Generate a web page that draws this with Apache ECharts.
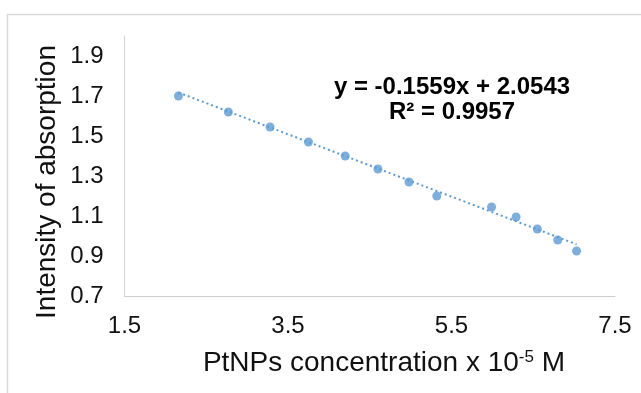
<!DOCTYPE html>
<html>
<head>
<meta charset="utf-8">
<script src="https://cdn.jsdelivr.net/npm/echarts@6/dist/echarts.min.js"></script>
<style>
html,body{margin:0;padding:0;background:#fff;}
#chart{width:641px;height:393px;}
</style>
</head>
<body>
<div id="chart"></div>
<script>
// Data
const concentration = [2.16, 2.77, 3.28, 3.75, 4.20, 4.60, 4.98, 5.32, 5.99, 6.29, 6.55, 6.80, 7.03];
const absorption = [1.70, 1.62, 1.545, 1.47, 1.40, 1.335, 1.27, 1.20, 1.145, 1.095, 1.035, 0.98, 0.925];
// Trendline coefficients as printed on the chart
const trendSlope = -0.1559;
const trendIntercept = 2.0543;
const equationText = 'y = -0.1559x + 2.0543';
const r2Text = 'R\u00B2 = 0.9957';
const xTickLabels = ['1.5', '3.5', '5.5', '7.5'];
const yTickLabels = ['0.7', '0.9', '1.1', '1.3', '1.5', '1.7', '1.9'];
const yTitle = 'Intensity of absorption';

const points = concentration.map((x, i) => [x, absorption[i]]);
const xMinData = Math.min(...concentration);
const xMaxData = Math.max(...concentration);
const trendPoints = [xMinData, xMaxData].map(x => [x, trendSlope * x + trendIntercept]);

const chart = echarts.init(document.getElementById('chart'), null, {renderer: 'canvas'});
const font = 'Liberation Sans, Arial, sans-serif';
const color = '#5b9bd5';

chart.setOption({
  backgroundColor: '#ffffff',
  animation: false,
  grid: {left: 124.5, right: 26, top: 36, bottom: 97, containLabel: false, outerBoundsMode: 'none'},
  xAxis: {
    type: 'value', min: 1.5, max: 7.5, interval: 0.5,
    axisLine: {show: true, lineStyle: {color: '#cccccc', width: 1}},
    axisTick: {show: false},
    splitLine: {show: false},
    axisLabel: {
      fontFamily: font, fontSize: 24, color: '#111111', margin: 18,
      formatter: v => { const s = v.toFixed(1); return xTickLabels.includes(s) ? s : ''; }
    }
  },
  yAxis: {
    type: 'value', min: 0.7, max: 2.0, interval: 0.1,
    axisLine: {show: true, lineStyle: {color: '#d4d4d4', width: 1}},
    axisTick: {show: false},
    splitLine: {show: false},
    axisLabel: {
      fontFamily: font, fontSize: 24, color: '#111111', margin: 21,
      formatter: v => { const s = v.toFixed(1); return yTickLabels.includes(s) ? s : ''; }
    }
  },
  series: [
    {
      type: 'line', data: trendPoints, showSymbol: false, symbol: 'none',
      lineStyle: {color: color, width: 2, type: [2, 3], cap: 'butt'},
      z: 1, silent: true
    },
    {
      type: 'scatter', data: points, symbol: 'circle', symbolSize: 9,
      itemStyle: {color: color}, z: 2
    }
  ],
  graphic: [
    {type: 'rect', shape: {x: 7.5, y: 14.5, width: 700, height: 500}, style: {fill: null, stroke: '#d9d9d9', lineWidth: 1.5}, silent: true, z: -1},
    {type: 'text', x: 452, y: 87, style: {text: equationText, font: 'bold 24px ' + font, fill: '#000000', align: 'center', verticalAlign: 'middle'}},
    {type: 'text', x: 452, y: 112, style: {text: r2Text, font: 'bold 24px ' + font, fill: '#000000', align: 'center', verticalAlign: 'middle'}},
    {type: 'text', x: 47, y: 182, rotation: Math.PI / 2, style: {text: yTitle, font: '28px ' + font, fill: '#111111', align: 'center', verticalAlign: 'middle'}},
    {type: 'text', x: 384, y: 363, style: {
      text: 'PtNPs concentration x 10{sup|-5} M',
      fontFamily: font, fontSize: 28, lineHeight: 28, fill: '#111111', align: 'center', verticalAlign: 'middle',
      rich: {sup: {fontFamily: font, fontSize: 17, lineHeight: 17, verticalAlign: 'top', fill: '#111111'}}
    }}
  ]
});
</script>
</body>
</html>
